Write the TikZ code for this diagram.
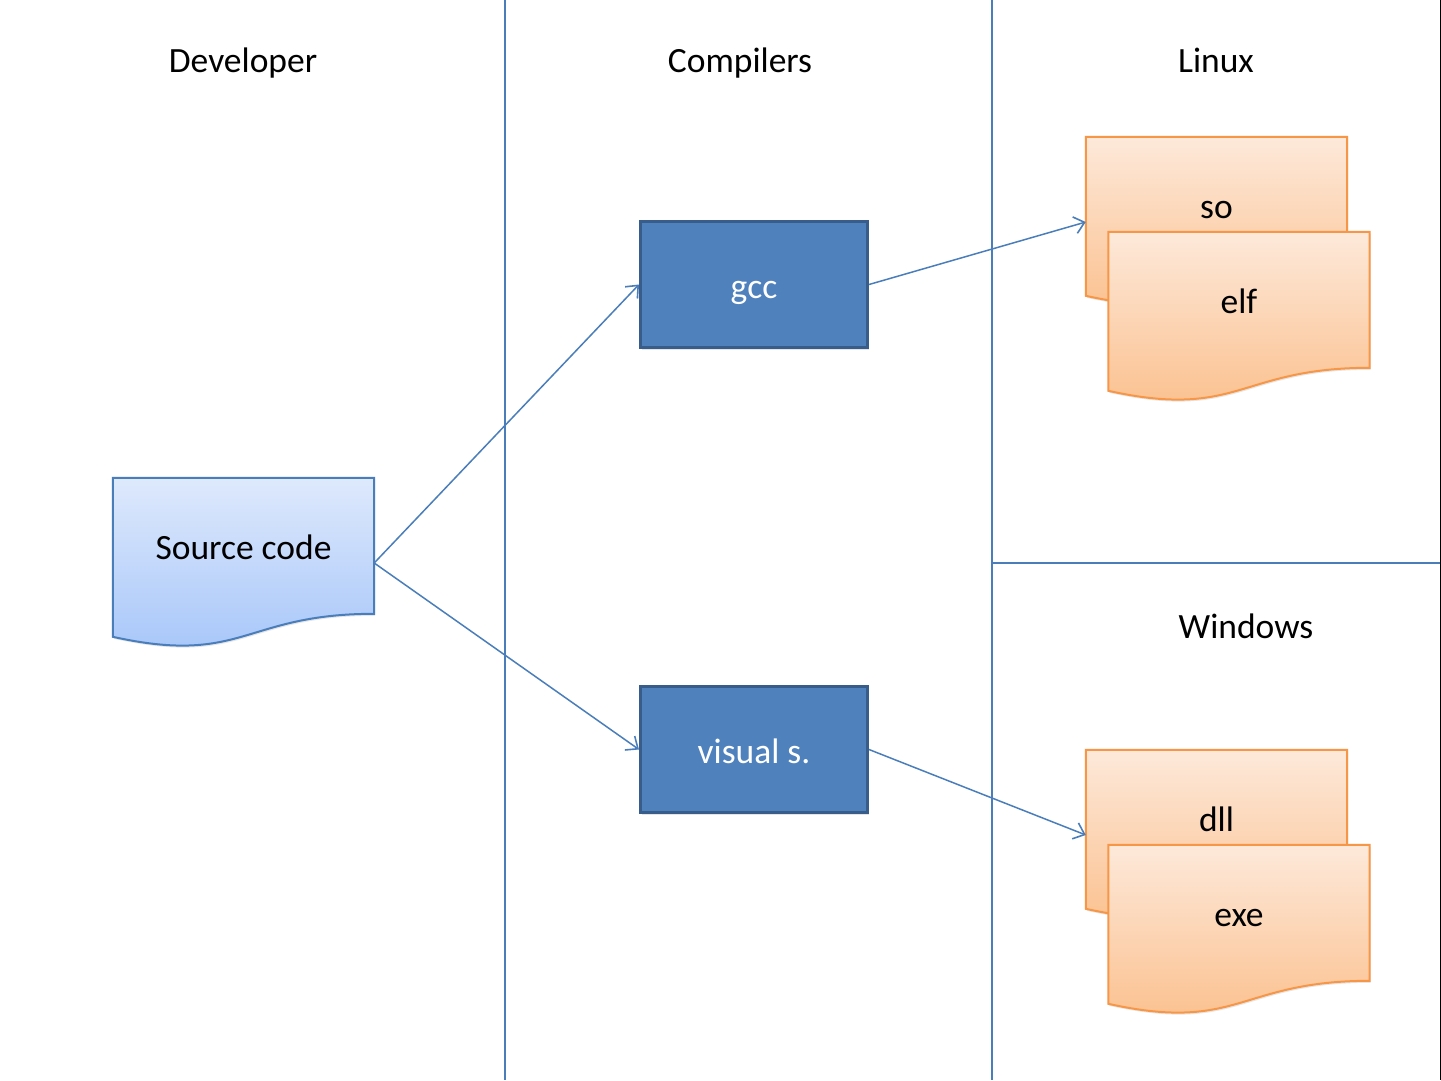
\documentclass[tikz,border=0pt]{standalone}
\usepackage{fontspec}
\setmainfont{Carlito}
\usetikzlibrary{arrows.meta,calc,backgrounds,shadows}
\definecolor{lineblue}{RGB}{74,126,187}
\definecolor{boxfill}{RGB}{79,129,189}
\definecolor{boxdraw}{RGB}{56,93,138}
\definecolor{doctopb}{RGB}{222,233,252}
\definecolor{docbotb}{RGB}{163,196,249}
\definecolor{doctopo}{RGB}{253,233,218}
\definecolor{docboto}{RGB}{251,190,138}
\definecolor{orangedraw}{RGB}{247,150,70}
\tikzset{
  txt/.style={font=\fontsize{35.5}{42}\selectfont, inner sep=0pt, anchor=base},
  docnode/.style={minimum width=261pt, minimum height=170pt, inner sep=0pt, draw=none},
  procbox/.style={draw=boxdraw, fill=boxfill, line width=3pt, minimum width=227pt, minimum height=126pt,
    inner sep=0pt, text=white, font=\fontsize{35.5}{42}\selectfont, text height=31pt, text depth=4pt,
    drop shadow={shadow xshift=1pt, shadow yshift=-2pt, opacity=0.2}},
  sep/.style={draw=lineblue, line width=1.5pt},
  conn/.style={draw=lineblue, line width=1.5pt, -{Straight Barb[length=10pt,width=17pt,line width=1.6pt]}},
  docblue/.style={draw=lineblue, line width=2pt, top color=doctopb, bottom color=docbotb,
    drop shadow={shadow xshift=1pt, shadow yshift=-2pt, opacity=0.2}},
  docorange/.style={draw=orangedraw, line width=2pt, top color=doctopo, bottom color=docboto,
    drop shadow={shadow xshift=1pt, shadow yshift=-2pt, opacity=0.2}},
}
\newcommand\docshape[2]{%
  \path[#2] (#1.north west) -- (#1.north east) -- ($(#1.north east)+(0,136)$)
    .. controls ($(#1.north)+(0,136)$) and ($(#1.north)+(0,188)$) .. ($(#1.north west)+(0,159)$) -- cycle;}
\begin{document}
\begin{tikzpicture}[x=1pt,y=-1pt]
\useasboundingbox (0,0) rectangle (1441,1080);
\fill[white] (0,0) rectangle (1441,1080);

% lanes
\coordinate (l1t) at (505,0);
\coordinate (l1b) at (505,1080);
\coordinate (l2t) at (992,0);
\coordinate (l2b) at (992,1080);
\coordinate (hl) at (992,563);
\coordinate (hr) at (1441,563);
\coordinate (edt) at (1440.5,0);
\coordinate (edb) at (1440.5,1080);
\draw[sep] (l1t) -- (l1b);
\draw[sep] (l2t) -- (l2b);
\draw[sep] (hl) -- (hr);
\draw[black, line width=1pt] (edt) -- (edb);

% titles
\node[txt] (tdev) at (243,72) {Developer};
\node[txt] (tcomp) at (740,72) {Compilers};
\node[txt] (tlin) at (1216,72) {Linux};
\node[txt] (twin) at (1246,638) {Windows};

% documents
\node[docnode] (src) at (243.5,563) {};
\docshape{src}{docblue}
\node[txt] (srct) at ($(src.north)+(0,82)$) {Source code};

\node[docnode] (so) at (1216.5,222) {};
\docshape{so}{docorange}
\node[txt] (sot) at ($(so.north)+(0,82)$) {so};
\node[docnode] (elf) at (1239,317) {};
\docshape{elf}{docorange}
\node[txt] (elft) at ($(elf.north)+(0,82)$) {elf};

\node[docnode] (dll) at (1216.5,835) {};
\docshape{dll}{docorange}
\node[txt] (dllt) at ($(dll.north)+(0,82)$) {dll};
\node[docnode] (exe) at (1239,930) {};
\docshape{exe}{docorange}
\node[txt] (exet) at ($(exe.north)+(0,82)$) {exe};

% compilers
\node[procbox] (gcc) at (754,284.5) {gcc};
\node[procbox] (vs) at (754,749.5) {visual s.};

% connectors
\draw[conn] (src.east) -- (gcc.west);
\draw[conn] (src.east) -- (vs.west);
\draw[conn] (gcc.east) -- (so.west);
\draw[conn] (vs.east) -- (dll.west);
\end{tikzpicture}
\end{document}
